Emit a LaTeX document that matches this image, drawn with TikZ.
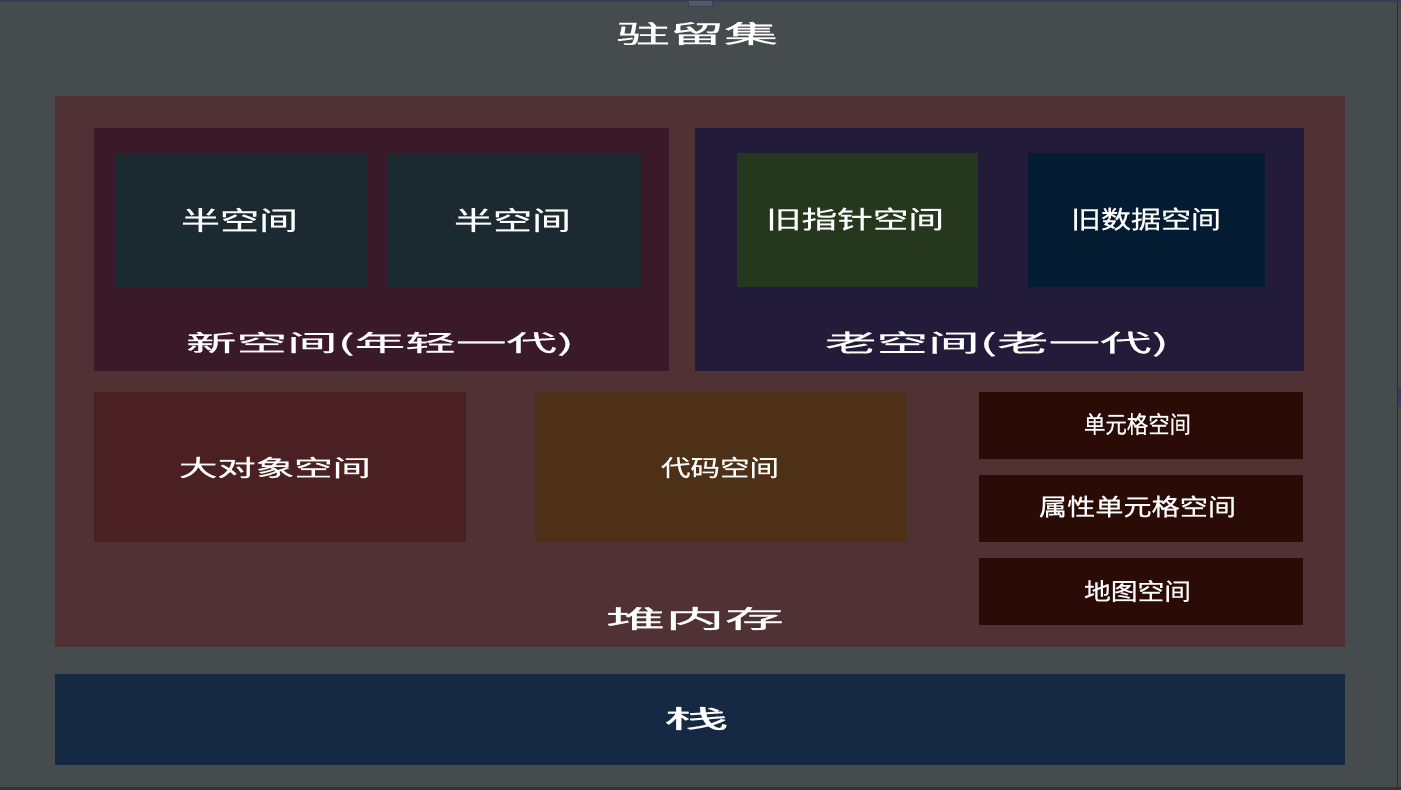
\documentclass[tikz,border=0pt]{standalone}
\usepackage{fontspec}
\usepackage{graphicx}
\newfontfamily\cjk[FakeBold=0.7]{Noto Sans CJK SC}
\definecolor{bgc}{HTML}{464B4E}
\definecolor{heapc}{HTML}{513234}
\definecolor{newc}{HTML}{3A1A28}
\definecolor{semic}{HTML}{1A2A30}
\definecolor{oldc}{HTML}{231B3A}
\definecolor{ptrc}{HTML}{25381E}
\definecolor{datac}{HTML}{041C32}
\definecolor{largec}{HTML}{4B2022}
\definecolor{codec}{HTML}{4E3016}
\definecolor{cellc}{HTML}{2A0B06}
\definecolor{stackc}{HTML}{152A42}
\definecolor{framec}{HTML}{34405A}
\newcommand\lbl[3]{\resizebox{#1pt}{#2pt}{\cjk #3}}
\begin{document}
\begin{tikzpicture}[x=1pt,y=-1pt,
  area/.style={rectangle,inner sep=0pt,outer sep=0pt,draw=none,anchor=north west},
  lab/.style={inner sep=0pt,outer sep=0pt,text=white}]
\fill[bgc] (0,0) rectangle (1401,790);
\useasboundingbox (0,0) rectangle (1401,790);
% frame details
\fill[framec] (0,0) rectangle (1401,2);
\fill[gray!70!black,draw=framec] (688,0) rectangle (712,6);
\fill[black!80] (0,787) rectangle (1401,790);
\fill[framec] (1398,388) rectangle (1401,406);
\fill[black!40!bgc] (1397,2) rectangle (1398,787);
% title
\node[lab] (title) at (697,33.5) {\lbl{162}{21}{驻留集}};
% heap
\node[area,fill=heapc,minimum width=1290pt,minimum height=551pt] (heap) at (55,96) {};
% new space
\node[area,fill=newc,minimum width=575pt,minimum height=243pt] (new) at (94,128) {};
\node[area,fill=semic,minimum width=253pt,minimum height=134pt] (semi1) at (115,153) {};
\node[area,fill=semic,minimum width=253pt,minimum height=134pt] (semi2) at (388,153) {};
\node[lab] (semi1l) at (239.5,220) {\lbl{117}{22}{半空间}};
\node[lab] (semi2l) at (512.5,220) {\lbl{117}{22}{半空间}};
\node[lab] (newl) at (380,342.5) {\lbl{388}{19.5}{新空间\smash{(}年轻一代\smash{)}}};
% old space
\node[area,fill=oldc,minimum width=609pt,minimum height=243pt] (old) at (695,128) {};
\node[area,fill=ptrc,minimum width=241pt,minimum height=134pt] (ptr) at (737,153) {};
\node[area,fill=datac,minimum width=237pt,minimum height=134pt] (data) at (1028,153) {};
\node[lab] (ptrl) at (855,219) {\lbl{178}{21}{旧指针空间}};
\node[lab] (datal) at (1146,219) {\lbl{150}{21}{旧数据空间}};
\node[lab] (oldl) at (997,342.5) {\lbl{344}{20.5}{老空间\smash{(}老一代\smash{)}}};
% other heap spaces
\node[area,fill=largec,minimum width=372pt,minimum height=150pt] (large) at (94,392) {};
\node[area,fill=codec,minimum width=372pt,minimum height=150pt] (code) at (535,392) {};
\node[lab] (largel) at (275,467.5) {\lbl{192}{19.5}{大对象空间}};
\node[lab] (codel) at (720,467.5) {\lbl{118}{19.5}{代码空间}};
\node[area,fill=cellc,minimum width=324pt,minimum height=67pt] (cell) at (979,392) {};
\node[area,fill=cellc,minimum width=324pt,minimum height=67pt] (pcell) at (979,475) {};
\node[area,fill=cellc,minimum width=324pt,minimum height=67pt] (map) at (979,558) {};
\node[lab] (celll) at (1137.5,424) {\lbl{107}{20}{单元格空间}};
\node[lab] (pcelll) at (1137.5,506.5) {\lbl{197}{20}{属性单元格空间}};
\node[lab] (mapl) at (1137.5,591) {\lbl{107}{20}{地图空间}};
\node[lab] (heapl) at (695,618.5) {\lbl{178}{21}{堆内存}};
% stack
\node[area,fill=stackc,minimum width=1290pt,minimum height=91pt] (stack) at (55,674) {};
\node[lab] (stackl) at (696.5,718.5) {\lbl{65}{21}{栈}};
\end{tikzpicture}
\end{document}
